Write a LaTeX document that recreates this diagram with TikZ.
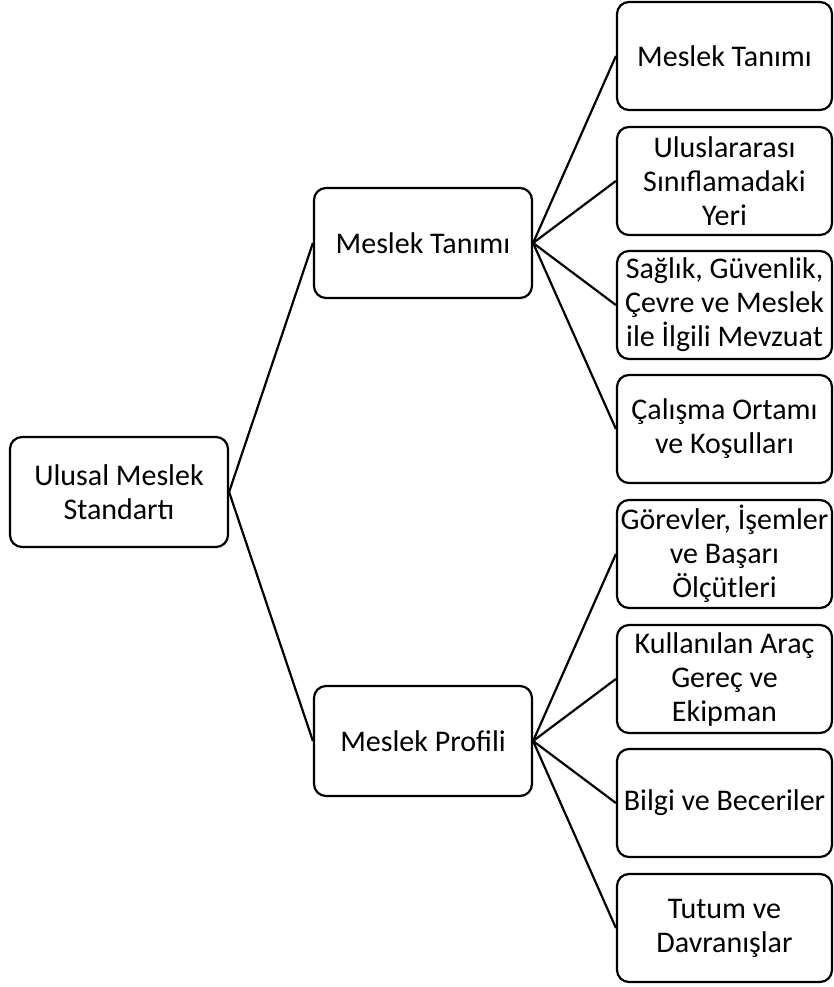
\documentclass[tikz,border=0pt]{standalone}
\usepackage{fontspec}
\setmainfont{Carlito}

\begin{document}
\begin{tikzpicture}[x=1pt,y=1pt,
		box/.style = {draw, line width=2.2pt, rounded corners=12pt, minimum width=215pt, minimum height=108pt, align=center, inner sep=0pt, font=\fontsize{30}{34}\selectfont},
		link/.style = {line width=2.2pt}]
		\useasboundingbox (0, 0) rectangle (833, -987);
		%%%%%%%%%%%%%
		\node[box, minimum width=218pt, minimum height=110pt] (root) at (119, -492) {Ulusal Meslek\\Standartı};
		\node[box, minimum width=218pt, minimum height=110pt] (tanim) at (423, -243) {Meslek Tanımı};
		\node[box, minimum width=218pt, minimum height=110pt] (profil) at (423, -741) {Meslek Profili};
		%%%%%%%%%%%%%
		\node[box] (t1) at (724.5, -56) {Meslek Tanımı};
		\node[box] (t2) at (724.5, -181) {Uluslararası\\Sınıflamadaki\\Yeri};
		\node[box] (t3) at (724.5, -305) {Sağlık, Güvenlik,\\Çevre ve Meslek\\ile İlgili Mevzuat};
		\node[box] (t4) at (724.5, -429) {Çalışma Ortamı\\ve Koşulları};
		\node[box] (p1) at (724.5, -554) {Görevler, İşemler\\ve Başarı\\Ölçütleri};
		\node[box] (p2) at (724.5, -679) {Kullanılan Araç\\Gereç ve\\Ekipman};
		\node[box] (p3) at (724.5, -803) {Bilgi ve Beceriler};
		\node[box] (p4) at (724.5, -928) {Tutum ve\\Davranışlar};
		%%%%%%%%%%%%%
		\draw [link] (root.east) to (tanim.west);
		\draw [link] (root.east) to (profil.west);
		\draw [link] (tanim.east) to (t1.west);
		\draw [link] (tanim.east) to (t2.west);
		\draw [link] (tanim.east) to (t3.west);
		\draw [link] (tanim.east) to (t4.west);
		\draw [link] (profil.east) to (p1.west);
		\draw [link] (profil.east) to (p2.west);
		\draw [link] (profil.east) to (p3.west);
		\draw [link] (profil.east) to (p4.west);
	\end{tikzpicture}
\end{document}
